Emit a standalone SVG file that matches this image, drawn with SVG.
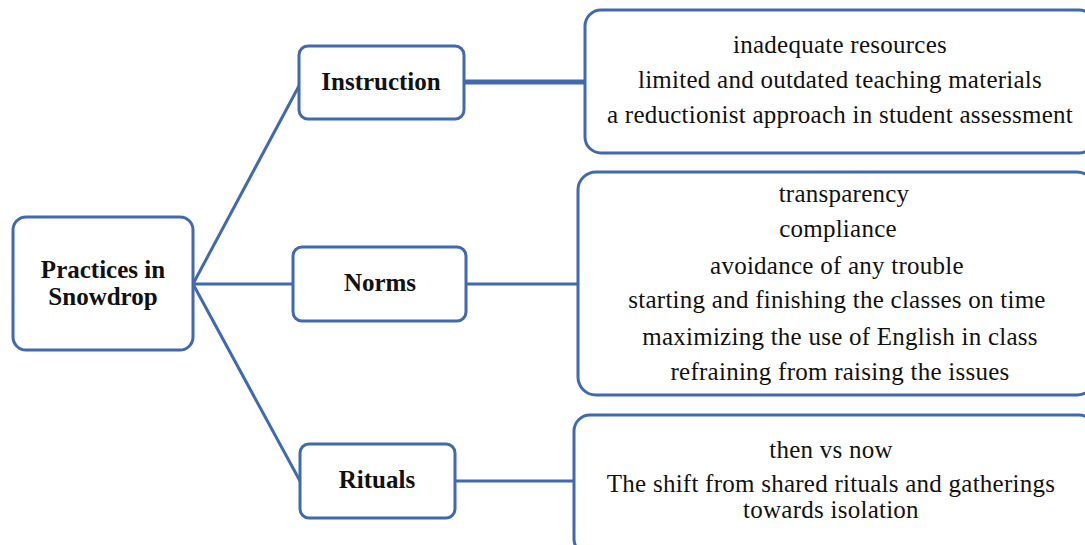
<svg xmlns="http://www.w3.org/2000/svg" width="1085" height="545" viewBox="0 0 1085 545">
  <style>
    .box { fill: #ffffff; stroke: #4169b0; stroke-width: 3; }
    .link { stroke: #4169b0; stroke-width: 3; fill: none; }
    .thick { stroke-width: 5; }
    text { font-family: 'Liberation Serif', 'Times New Roman', 'DejaVu Serif', serif; fill: #111; text-anchor: middle; }
    .label { font-weight: bold; font-size: 25px; }
    .item { font-size: 25px; letter-spacing: 0.25px; }
  </style>
  <rect width="1085" height="545" fill="#ffffff"/>

  <!-- connectors -->
  <g id="connectors">
    <line class="link" x1="193" y1="284" x2="300" y2="84"/>
    <line class="link" x1="193" y1="284" x2="293" y2="284"/>
    <line class="link" x1="193" y1="284" x2="300" y2="481"/>
    <line class="link thick" x1="464" y1="82" x2="585" y2="82"/>
    <line class="link" x1="466" y1="284" x2="578" y2="284"/>
    <line class="link" x1="455" y1="481" x2="574" y2="481"/>
  </g>

  <!-- root -->
  <g id="root">
    <rect class="box" x="13" y="217" width="180" height="133" rx="13"/>
    <text class="label" x="103" y="278">Practices in</text>
    <text class="label" x="103" y="305">Snowdrop</text>
  </g>

  <!-- categories -->
  <g id="instruction">
    <rect class="box" x="299" y="46" width="165" height="73" rx="9"/>
    <text class="label" x="381" y="90">Instruction</text>
  </g>
  <g id="norms">
    <rect class="box" x="293" y="247" width="173" height="74" rx="9"/>
    <text class="label" x="380" y="291">Norms</text>
  </g>
  <g id="rituals">
    <rect class="box" x="300" y="444" width="155" height="74" rx="9"/>
    <text class="label" x="377" y="488">Rituals</text>
  </g>

  <!-- detail lists -->
  <g id="instruction-details">
    <rect class="box" x="585" y="10" width="510" height="143" rx="16"/>
    <text class="item" x="840" y="53">inadequate resources</text>
    <text class="item" x="840" y="88">limited and outdated teaching materials</text>
    <text class="item" x="840" y="123">a reductionist approach in student assessment</text>
  </g>
  <g id="norms-details">
    <rect class="box" x="578" y="172" width="517" height="223" rx="18"/>
    <text class="item" x="844" y="202">transparency</text>
    <text class="item" x="838" y="237">compliance</text>
    <text class="item" x="837" y="274">avoidance of any trouble</text>
    <text class="item" x="837" y="308">starting and finishing the classes on time</text>
    <text class="item" x="840" y="345">maximizing the use of English in class</text>
    <text class="item" x="840" y="380">refraining from raising the issues</text>
  </g>
  <g id="rituals-details">
    <rect class="box" x="574" y="415" width="521" height="140" rx="16"/>
    <text class="item" x="831" y="458">then vs now</text>
    <text class="item" x="831" y="492">The shift from shared rituals and gatherings</text>
    <text class="item" x="831" y="518">towards isolation</text>
  </g>
</svg>
